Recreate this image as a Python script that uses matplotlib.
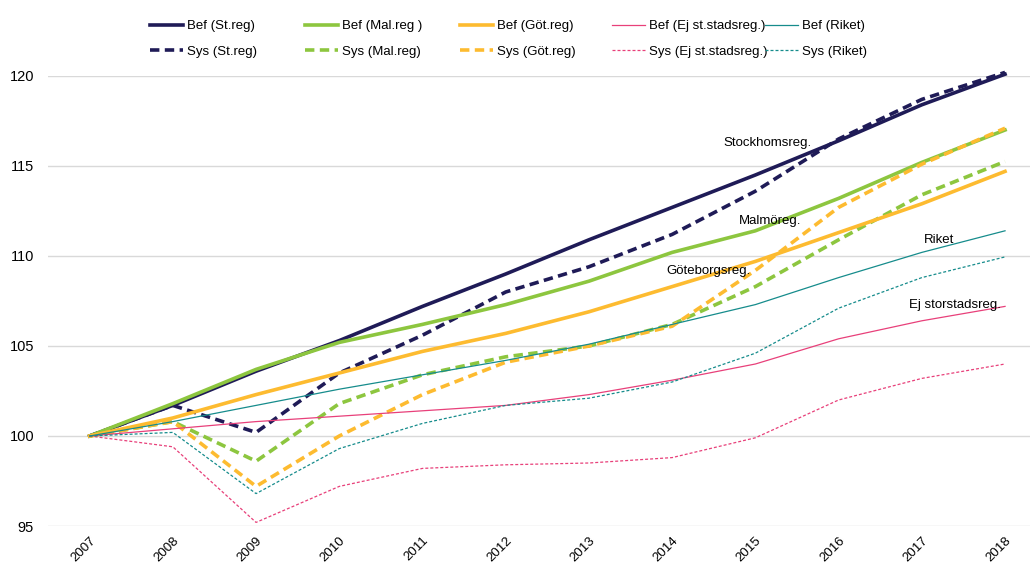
import matplotlib
matplotlib.use("Agg")
import matplotlib.pyplot as plt

plt.rcParams['font.family'] = ['Liberation Sans', 'DejaVu Sans']

years = list(range(2007, 2019))

bef_st = [100, 101.7, 103.6, 105.3, 107.2, 109.0, 110.9, 112.7, 114.5, 116.4, 118.4, 120.1]
sys_st = [100, 101.7, 100.2, 103.5, 105.6, 108.0, 109.4, 111.2, 113.6, 116.5, 118.7, 120.2]
bef_mal = [100, 101.8, 103.7, 105.2, 106.2, 107.3, 108.6, 110.2, 111.4, 113.2, 115.2, 117.0]
sys_mal = [100, 100.8, 98.6, 101.8, 103.4, 104.4, 105.0, 106.2, 108.3, 110.9, 113.4, 115.25]
bef_got = [100, 101.0, 102.3, 103.5, 104.7, 105.7, 106.9, 108.3, 109.7, 111.3, 112.9, 114.7]
sys_got = [100, 100.8, 97.2, 100.0, 102.3, 104.1, 105.0, 106.1, 109.2, 112.7, 115.1, 117.1]
bef_ej = [100, 100.4, 100.8, 101.1, 101.4, 101.7, 102.3, 103.1, 104.0, 105.4, 106.4, 107.2]
sys_ej = [100, 99.4, 95.2, 97.2, 98.2, 98.4, 98.5, 98.8, 99.9, 102.0, 103.2, 104.0]
bef_riket = [100, 100.8, 101.7, 102.6, 103.4, 104.2, 105.1, 106.2, 107.3, 108.8, 110.2, 111.4]
sys_riket = [100, 100.2, 96.8, 99.3, 100.7, 101.7, 102.1, 103.0, 104.6, 107.1, 108.8, 109.95]

navy = '#1f1b57'
green = '#8dc63f'
orange = '#fdbb30'
pink = '#e8407a'
teal = '#168c8c'

fig = plt.figure(figsize=(10.33, 5.65), dpi=100)
ax = fig.add_axes([48 / 1033, 39 / 565, 982 / 1033, 450 / 565])

thick = 2.6
thin = 0.9
dash = (0, (2.6, 1.5))
dot = (0, (2.4, 1.6))

series = [
    (bef_st, navy, thick, '-', 'Bef (St.reg)'),
    (sys_st, navy, thick, dash, 'Sys (St.reg)'),
    (bef_mal, green, thick, '-', 'Bef (Mal.reg )'),
    (sys_mal, green, thick, dash, 'Sys (Mal.reg)'),
    (bef_got, orange, thick, '-', 'Bef (Göt.reg)'),
    (sys_got, orange, thick, dash, 'Sys (Göt.reg)'),
    (bef_ej, pink, thin, '-', 'Bef (Ej st.stadsreg.)'),
    (sys_ej, pink, thin, dot, 'Sys (Ej st.stadsreg.)'),
    (bef_riket, teal, thin, '-', 'Bef (Riket)'),
    (sys_riket, teal, thin, dot, 'Sys (Riket)'),
]

handles = []
for vals, col, lw, ls, lab in series:
    h, = ax.plot(years, vals, color=col, lw=lw, linestyle=ls, label=lab, clip_on=False)
    handles.append(h)

ax.set_xlim(2006.5, 2018.3)
ax.set_ylim(95, 120)
ax.set_yticks([95, 100, 105, 110, 115, 120])
ax.set_xticks(years)
ax.set_xticklabels([str(y) for y in years], rotation=45, ha='right', rotation_mode='anchor', fontsize=9.5)
ax.tick_params(axis='y', labelsize=10.5, length=0, pad=10)
ax.tick_params(axis='x', length=0, pad=6)
ax.grid(axis='y', color='#d9d9d9', lw=1)
ax.set_axisbelow(True)
for s in ax.spines.values():
    s.set_visible(False)

ax.text(2014.62, 116.1, 'Stockhomsreg.', fontsize=9.5)
ax.text(2014.8, 111.8, 'Malmöreg.', fontsize=9.5)
ax.text(2013.93, 109.0, 'Göteborgsreg.', fontsize=9.5)
ax.text(2017.02, 110.7, 'Riket', fontsize=9.5)
ax.text(2016.85, 107.1, 'Ej storstadsreg.', fontsize=9.5)

# one legend per column, fixed column positions like the original
col_x = [150, 305, 460, 612, 765]
for i, x in enumerate(col_x):
    fig.legend(handles=handles[2 * i:2 * i + 2], loc='upper left',
               bbox_to_anchor=(x / 1033, 1 - 20 / 565), frameon=False,
               fontsize=9.5, handlelength=2.5, handletextpad=0.3,
               labelspacing=1.0, borderpad=0, borderaxespad=0)

fig.savefig('out.png', dpi=100)
